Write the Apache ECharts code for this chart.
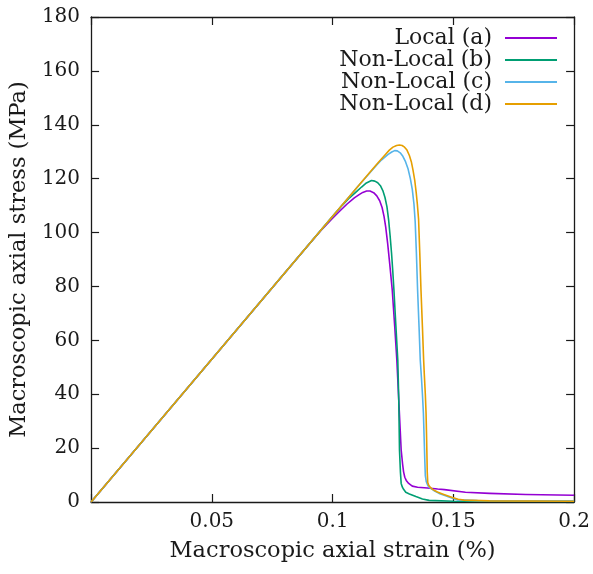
<!DOCTYPE html>
<html>
<head>
<meta charset="utf-8">
<script src="https://cdn.jsdelivr.net/npm/echarts@6/dist/echarts.min.js"></script>
<style>
  html, body { margin: 0; padding: 0; background: #fff; }
  #chart { width: 593px; height: 574px; }
</style>
</head>
<body>
<div id="chart"></div>
<script>
// Stress-strain response: [axial strain (%), axial stress (MPa)]
const localA = [
  [0, 0], [0.09, 95.4], [0.095, 100.6], [0.1, 105.3], [0.103, 108.0], [0.106, 110.6],
  [0.109, 112.9], [0.111, 114.1], [0.1125, 114.9], [0.1141, 115.4], [0.1155, 115.4],
  [0.117, 114.8], [0.1183, 113.6], [0.1195, 111.8], [0.1205, 109.3], [0.1213, 106.0],
  [0.122, 102.0], [0.1228, 96.0], [0.1237, 88.0], [0.1247, 78.7], [0.1257, 65.5],
  [0.1266, 52.7], [0.1274, 37.9], [0.1284, 19.3], [0.129, 14.0], [0.1294, 11.2],
  [0.1299, 9.2], [0.1305, 8.0], [0.1315, 6.9], [0.133, 5.9], [0.1352, 5.5],
  [0.1393, 5.2], [0.1435, 4.8], [0.1463, 4.6], [0.1466, 4.0], [0.155, 3.6],
  [0.165, 3.2], [0.18, 2.8], [0.2, 2.5]
];
const nonLocalB = [
  [0, 0], [0.1, 106.0], [0.104, 110.1], [0.107, 112.9], [0.11, 115.3], [0.112, 116.9],
  [0.114, 118.4], [0.1161, 119.3], [0.1175, 119.1], [0.1187, 118.5], [0.1198, 117.4],
  [0.1208, 115.6], [0.1217, 113.0], [0.1225, 109.6], [0.1232, 104.7], [0.1238, 99.0],
  [0.1244, 92.5], [0.1249, 86.0], [0.1254, 78.7], [0.1262, 65.5], [0.127, 52.7],
  [0.1274, 37.9], [0.1277, 19.3], [0.1281, 11.0], [0.1284, 6.9], [0.1289, 5.5],
  [0.1294, 4.7], [0.1303, 3.6], [0.1318, 3.0], [0.1345, 2.0], [0.1372, 1.1],
  [0.14, 0.6], [0.15, 0.3], [0.2, 0.2]
];
const nonLocalC = [
  [0, 0], [0.11, 116.6], [0.115, 121.7], [0.118, 124.8], [0.1202, 126.9], [0.123, 129.0],
  [0.1245, 129.9], [0.1257, 130.4], [0.1268, 130.3], [0.128, 129.6], [0.1291, 128.3],
  [0.1302, 126.3], [0.1312, 123.8], [0.1322, 120.0], [0.133, 116.0], [0.1337, 110.5],
  [0.1342, 104.0], [0.1347, 92.5], [0.1352, 78.7], [0.1358, 65.0], [0.1363, 52.7],
  [0.1368, 46.0], [0.1372, 40.0], [0.1376, 33.0], [0.1379, 24.0], [0.1382, 15.0],
  [0.1384, 9.8], [0.1388, 7.5], [0.1393, 6.4], [0.14, 5.4], [0.142, 4.2],
  [0.1441, 3.2], [0.1462, 2.5], [0.1496, 1.4], [0.1516, 0.8], [0.16, 0.5], [0.2, 0.4]
];
const nonLocalD = [
  [0, 0], [0.115, 121.9], [0.119, 126.1], [0.1216, 128.7], [0.1235, 130.6], [0.125, 131.7],
  [0.1265, 132.3], [0.1277, 132.5], [0.1288, 132.3], [0.1298, 131.7], [0.1308, 130.6],
  [0.1318, 128.6], [0.1326, 126.3], [0.1333, 123.2], [0.134, 119.5], [0.1346, 115.0],
  [0.1351, 110.5], [0.1356, 105.0], [0.1361, 92.5], [0.1366, 78.7], [0.1372, 65.0],
  [0.1377, 52.7], [0.138, 47.0], [0.1384, 40.0], [0.1387, 33.0], [0.1389, 25.0],
  [0.1391, 16.0], [0.1392, 11.0], [0.1394, 7.2], [0.1398, 6.2], [0.1405, 5.4],
  [0.1414, 4.7], [0.1434, 3.7], [0.1455, 3.0], [0.1496, 1.7], [0.152, 1.0],
  [0.1544, 0.7], [0.165, 0.4], [0.2, 0.3]
];

const seriesNames = ['Local (a)', 'Non-Local (b)', 'Non-Local (c)', 'Non-Local (d)'];
const seriesColors = ['#9400d3', '#009e73', '#56b4e9', '#e69f00'];
const seriesData = [localA, nonLocalB, nonLocalC, nonLocalD];

const xTicks = { min: 0, max: 0.2, interval: 0.05 };
const yTicks = { min: 0, max: 180, interval: 20 };

const FONT = 'DejaVu Serif';
const ink = '#1a1a1a';

const frameAxis = {
  axisLine: { show: true, onZero: false, lineStyle: { color: ink, width: 1.3 } },
  axisTick: { show: true, inside: true, length: 8, lineStyle: { color: ink, width: 1.2 } },
  splitLine: { show: false }
};

const chart = echarts.init(document.getElementById('chart'), null, { renderer: 'canvas' });

chart.setOption({
  animation: false,
  backgroundColor: '#fff',
  grid: { left: 90, right: 15, top: 17, bottom: 72, containLabel: false },
  legend: {
    orient: 'vertical',
    right: 31,
    top: 22,
    align: 'right',
    itemWidth: 52,
    itemHeight: 2,
    itemGap: 0,
    icon: 'rect',
    data: seriesNames,
    textStyle: {
      fontFamily: FONT, fontSize: 22, color: ink, lineHeight: 19,
      padding: [0, 8, 0, 0]
    }
  },
  xAxis: [
    Object.assign({
      type: 'value', position: 'bottom', ...xTicks,
      name: 'Macroscopic axial strain (%)', nameLocation: 'middle', nameGap: 38,
      nameTextStyle: { fontFamily: FONT, fontSize: 22.5, color: ink },
      axisLabel: {
        show: true, margin: 10, fontFamily: FONT, fontSize: 20, color: ink,
        formatter: v => (v === 0 ? '' : String(+v.toFixed(2)))
      }
    }, frameAxis),
    Object.assign({
      type: 'value', position: 'top', ...xTicks, axisLabel: { show: false }
    }, frameAxis)
  ],
  yAxis: [
    Object.assign({
      type: 'value', position: 'left', ...yTicks,
      name: 'Macroscopic axial stress (MPa)', nameLocation: 'middle', nameGap: 52,
      nameTextStyle: { fontFamily: FONT, fontSize: 22.5, color: ink },
      axisLabel: { show: true, margin: 11, fontFamily: FONT, fontSize: 20, color: ink }
    }, frameAxis),
    Object.assign({
      type: 'value', position: 'right', ...yTicks, axisLabel: { show: false }
    }, frameAxis)
  ],
  series: seriesData.map((d, i) => ({
    name: seriesNames[i],
    type: 'line',
    xAxisIndex: 0,
    yAxisIndex: 0,
    data: d,
    showSymbol: false,
    symbol: 'none',
    smooth: false,
    clip: true,
    lineStyle: { color: seriesColors[i], width: 1.6, join: 'round' },
    itemStyle: { color: seriesColors[i] },
    z: 2 + i
  }))
});
</script>
</body>
</html>
